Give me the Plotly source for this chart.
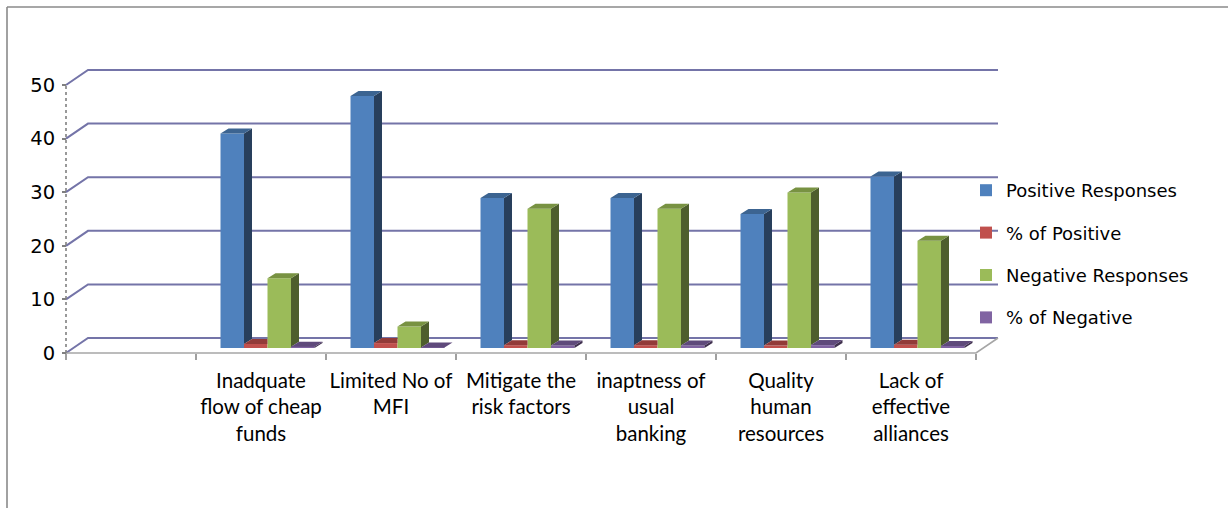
import plotly.graph_objects as go

# ---- data -----------------------------------------------------------------
categories = ["", "Inadquate flow of cheap funds", "Limited No of MFI",
              "Mitigate the risk factors", "inaptness of usual banking",
              "Quality human resources", "Lack of effective alliances"]
tick_labels = ["", "Inadquate<br>flow of cheap<br>funds", "Limited No of<br>MFI",
               "Mitigate the<br>risk factors", "inaptness of<br>usual<br>banking",
               "Quality<br>human<br>resources", "Lack of<br>effective<br>alliances"]
series_names = ["Positive Responses", "% of Positive",
                "Negative Responses", "% of Negative"]
positive_responses = [None, 40, 47, 28, 28, 25, 32]
pct_positive = [None, 0.75, 0.92, 0.52, 0.52, 0.46, 0.62]
negative_responses = [None, 13, 4, 26, 26, 29, 20]
pct_negative = [None, 0.25, 0.08, 0.48, 0.48, 0.54, 0.38]
y_ticks = [0, 10, 20, 30, 40, 50]

series_values = [positive_responses, pct_positive, negative_responses, pct_negative]

# ---- colours (front, top, side) ---------------------------------------------
front_colors = ["#4f81bd", "#c0504d", "#9bbb59", "#8064a2"]
top_colors = ["#3c6491", "#923b39", "#789242", "#5f4a7b"]
side_colors = ["#283f5c", "#6b2c2a", "#4e5e2d", "#40314f"]
grid_color = "#7474a8"
floor_color = "#a6a6a6"

# ---- page geometry ----------------------------------------------------------
W, H = 1228, 508
L, R, T, B = 58, 1002, 58, 362          # plot area in pixels
X_ORIGIN, Y_ORIGIN = 66, 353            # front-left corner of the floor
PX_PER_CAT = 130.0
PX_PER_UNIT = 5.36

x_range = [-0.5 - (X_ORIGIN - L) / PX_PER_CAT, -0.5 + (R - X_ORIGIN) / PX_PER_CAT]
y_range = [-(B - Y_ORIGIN) / PX_PER_UNIT, (Y_ORIGIN - T) / PX_PER_UNIT]


def ddx(px):
    return px / PX_PER_CAT


def ddy(px):
    return px / PX_PER_UNIT


def paper_x(px):
    return (px - L) / (R - L)


def paper_y(py):
    return (B - py) / (B - T)


WALL = (ddx(22), ddy(15))        # oblique shift of the back wall
BAR_PLANE = (ddx(6.5), ddy(5))   # front faces of the bars sit a little behind the floor edge
BAR_DEPTH = (ddx(8), ddy(5))     # visible depth of every bar
BAR_GAP = 0.277
bw = (1 - BAR_GAP) / len(series_values)

x_first, x_last = -0.5, len(categories) - 0.5

fig = go.Figure()

# ---- front faces --------------------------------------------------------------
for s, (name, vals) in enumerate(zip(series_names, series_values)):
    xs = [j + BAR_PLANE[0] for j, v in enumerate(vals) if v is not None]
    ys = [v for v in vals if v is not None]
    fig.add_trace(go.Bar(
        x=xs, y=ys, base=BAR_PLANE[1], width=bw, offset=(s - 2) * bw,
        name=name, legendgroup=name,
        marker=dict(color=front_colors[s], line=dict(width=0)),
        hoverinfo="skip",
    ))

# ---- side and top faces -----------------------------------------------------
for s, vals in enumerate(series_values):
    nxt_vals = series_values[s + 1] if s + 1 < len(series_values) else None
    side_x, side_y, top_x, top_y = [], [], [], []
    for j, v in enumerate(vals):
        if v is None:
            continue
        x0 = j + BAR_PLANE[0] + (s - 2) * bw
        x1 = x0 + bw
        yt = BAR_PLANE[1] + v
        nxt = nxt_vals[j] if nxt_vals is not None else None
        low = 0 if nxt is None else min(v, nxt)
        yb = BAR_PLANE[1] + low
        if yt > yb:
            side_x += [x1, x1 + BAR_DEPTH[0], x1 + BAR_DEPTH[0], x1, x1, None]
            side_y += [yb, yb + BAR_DEPTH[1], yt + BAR_DEPTH[1], yt, yb, None]
        if nxt is not None and nxt > v:
            # right edge hidden behind the taller neighbour
            top_x += [x0, x1, x1, x0 + BAR_DEPTH[0], x0, None]
            top_y += [yt, yt, yt + BAR_DEPTH[1], yt + BAR_DEPTH[1], yt, None]
        else:
            top_x += [x0, x1, x1 + BAR_DEPTH[0], x0 + BAR_DEPTH[0], x0, None]
            top_y += [yt, yt, yt + BAR_DEPTH[1], yt + BAR_DEPTH[1], yt, None]
    if side_x:
        fig.add_trace(go.Scatter(x=side_x, y=side_y, mode="lines", fill="toself",
                                 fillcolor=side_colors[s], line=dict(width=0),
                                 showlegend=False, hoverinfo="skip"))
    fig.add_trace(go.Scatter(x=top_x, y=top_y, mode="lines", fill="toself",
                             fillcolor=top_colors[s], line=dict(width=0),
                             showlegend=False, hoverinfo="skip"))

# ---- walls, floor and front axis ----------------------------------------------
shapes = []
for v in y_ticks:
    shapes.append(dict(
        type="path", xref="x", yref="y", layer="below",
        path=f"M {x_first},{v} L {x_first + WALL[0]},{v + WALL[1]} L {x_last + WALL[0]},{v + WALL[1]}",
        line=dict(color=grid_color, width=2)))
shapes.append(dict(
    type="path", xref="x", yref="y", layer="below",
    path=f"M {x_first},0 L {x_last},0 L {x_last + WALL[0]},{WALL[1]}",
    line=dict(color=floor_color, width=1.6)))
shapes.append(dict(
    type="line", xref="x", yref="y", layer="below",
    x0=x_first, y0=0, x1=x_first, y1=y_ticks[-1],
    line=dict(color="#808080", width=1.6, dash="3px,3px")))
# outer frame
shapes.append(dict(type="line", xref="paper", yref="paper",
                   x0=paper_x(7), y0=paper_y(7), x1=paper_x(7), y1=paper_y(H + 2),
                   line=dict(color="#8a8a8a", width=1.6)))
shapes.append(dict(type="line", xref="paper", yref="paper",
                   x0=paper_x(7), y0=paper_y(7), x1=paper_x(W + 2), y1=paper_y(7),
                   line=dict(color="#8a8a8a", width=1.6)))

fig.update_layout(
    width=W, height=H, autosize=False,
    margin=dict(l=L, r=W - R, t=T, b=H - B, pad=0),
    paper_bgcolor="white", plot_bgcolor="rgba(0,0,0,0)",
    barmode="overlay",
    shapes=shapes,
    showlegend=True,
    legend=dict(x=paper_x(966), y=paper_y(172), xanchor="left", yanchor="top",
                font=dict(family="DejaVu Sans", size=18, color="#000000"),
                traceorder="grouped", tracegroupgap=16,
                bgcolor="rgba(0,0,0,0)", borderwidth=0),
    xaxis=dict(range=x_range, anchor="free", position=paper_y(Y_ORIGIN),
               tickmode="array", tickvals=list(range(len(categories))),
               ticktext=tick_labels, ticks="", showgrid=False, zeroline=False,
               showline=False, ticklabelstandoff=13,
               tickfont=dict(family="Lato", size=20.5, color="#000000"),
               minor=dict(tickmode="array",
                          tickvals=[k - 0.5 for k in range(len(categories) + 1)],
                          ticks="outside", ticklen=6, tickwidth=1.5,
                          tickcolor="#a0a0a0", showgrid=False)),
    yaxis=dict(range=y_range, anchor="free", position=paper_x(X_ORIGIN),
               tickmode="array", tickvals=y_ticks, ticks="outside", ticklen=4,
               tickwidth=1.5, tickcolor="#808080", showgrid=False,
               zeroline=False, showline=False, ticklabelstandoff=3,
               tickfont=dict(family="DejaVu Sans", size=19.5, color="#000000")),
)

fig.write_html("out.html")
